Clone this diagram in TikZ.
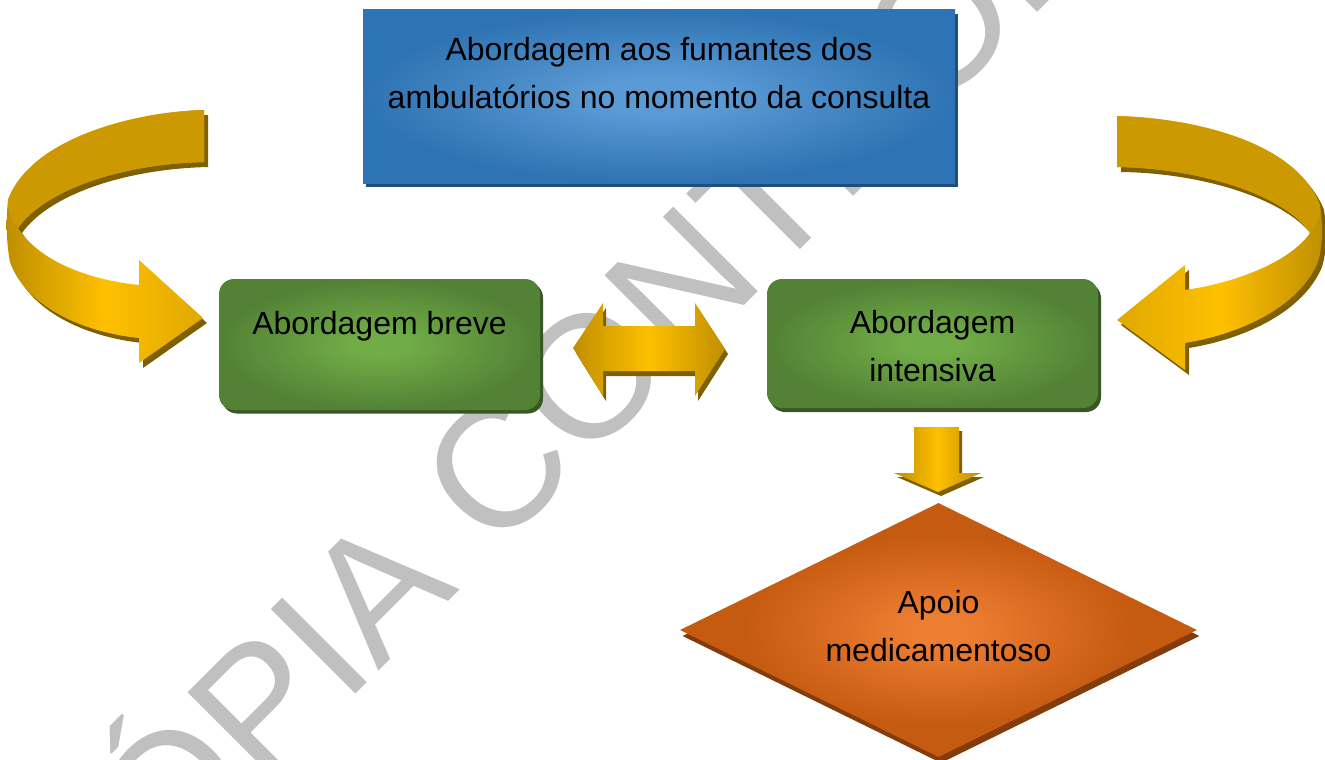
\documentclass[tikz,border=0pt]{standalone}
\usepackage{fontspec}
\setmainfont{Liberation Sans}
\usetikzlibrary{shapes.geometric}
\definecolor{blueIn}{HTML}{5B9BD5}
\definecolor{blueOut}{HTML}{2E73B3}
\definecolor{blueSh}{HTML}{1F4E79}
\definecolor{greenIn}{HTML}{70AD47}
\definecolor{greenOut}{HTML}{538135}
\definecolor{greenSh}{HTML}{385723}
\definecolor{orIn}{HTML}{ED7D31}
\definecolor{orOut}{HTML}{C55A11}
\definecolor{orSh}{HTML}{843C0C}
\definecolor{goldL}{HTML}{FFC000}
\definecolor{goldM}{HTML}{E0A800}
\definecolor{goldD}{HTML}{BF8F00}
\definecolor{goldT}{HTML}{CC9A00}
\definecolor{goldSh}{HTML}{7F6000}
\definecolor{wmGray}{HTML}{C0C0C0}
\pgfdeclareradialshading{blueshade}{\pgfpointorigin}{color(0bp)=(blueIn); color(5bp)=(blueIn); color(25bp)=(blueOut); color(50bp)=(blueOut)}
\pgfdeclareradialshading{greenshade}{\pgfpointorigin}{color(0bp)=(greenIn); color(4bp)=(greenIn); color(25bp)=(greenOut); color(50bp)=(greenOut)}
\pgfdeclareradialshading{orshade}{\pgfpointorigin}{color(0bp)=(orIn); color(3bp)=(orIn); color(19bp)=(orOut); color(50bp)=(orOut)}
\begin{document}
\begin{tikzpicture}[x=1pt,y=-1pt,
  lbl/.style={font=\fontsize{32}{48}\selectfont, text=black, align=center, inner sep=0pt},
  wmark/.style={font=\fontsize{174}{174}\selectfont, text=wmGray, inner sep=0pt},
  bluebox/.style={rectangle, inner sep=0pt, minimum width=592pt, minimum height=173pt, shade, shading=blueshade},
  blueshadow/.style={rectangle, inner sep=0pt, minimum width=592pt, minimum height=173pt, fill=blueSh},
  greenbox/.style={rectangle, rounded corners=15pt, inner sep=0pt, shade, shading=greenshade},
  greenshadow/.style={rectangle, rounded corners=15pt, inner sep=0pt, fill=greenSh},
  diabox/.style={diamond, inner sep=0pt, minimum width=517pt, minimum height=254pt, shade, shading=orshade},
  diashadow/.style={diamond, inner sep=0pt, minimum width=517pt, minimum height=254pt, fill=orSh},
  goldshadow/.style={fill=goldSh},
  goldtop/.style={fill=goldT},
  goldgrad/.style={left color=goldD, right color=goldD, middle color=goldL},
  goldgradsoft/.style={left color=goldD, right color=goldM, middle color=goldL},
  goldgradsoftr/.style={left color=goldM, right color=goldD, middle color=goldL},
]
\useasboundingbox (0,0) rectangle (1325,760);
% watermark
\begin{scope}
\clip (0,0) rectangle (1325,760);
\node[wmark, rotate=45, anchor=base west] (wm) at (77.6,972.4) {CÓPIA CONTROLADA};
\end{scope}

% top blue box
\node[blueshadow] (topsh) at (662,100.5) {};
\node[bluebox] (top) at (659,96.5) {};
\node[lbl] (toptxt) at (659,73.5) {Abordagem aos fumantes dos\\ambulatórios no momento da consulta};

% green boxes
\node[greenshadow, minimum width=321pt, minimum height=131pt] (brevesh) at (382.5,348) {};
\node[greenbox, minimum width=321pt, minimum height=131pt] (breve) at (379.5,344.5) {};
\node[lbl, anchor=base] (brevetxt) at (379.5,334) {Abordagem breve};

\node[greenshadow, minimum width=331pt, minimum height=129pt] (intsh) at (935.5,347.5) {};
\node[greenbox, minimum width=331pt, minimum height=129pt] (intensiva) at (932.5,343.5) {};
\node[lbl] (inttxt) at (932.5,346.5) {Abordagem\\intensiva};

% diamond
\node[diashadow] (apoiosh) at (941,636) {};
\node[diabox] (apoio) at (938.5,630) {};
\node[lbl] (apoiotxt) at (938.5,626.5) {Apoio\\medicamentoso};

% double arrow between the green boxes
\begin{scope}[shift={(3,5)}]
\fill[goldshadow] (573,348) -- (603,303) -- (603,326) -- (695,326) -- (695,303) -- (725,349) -- (695,396) -- (695,371) -- (603,371) -- (603,396) -- cycle;
\end{scope}
\shade[goldgrad] (573,348) -- (603,303) -- (603,326) -- (695,326) -- (695,303) -- (725,349) -- (695,396) -- (695,371) -- (603,371) -- (603,396) -- cycle;

% down arrow
\begin{scope}[shift={(3,4)}]
\fill[goldshadow] (914,427) -- (959,427) -- (959,473) -- (981,473) -- (938,492) -- (894,473) -- (914,473) -- cycle;
\end{scope}
\shade[goldgrad] (914,427) -- (959,427) -- (959,473) -- (981,473) -- (938,492) -- (894,473) -- (914,473) -- cycle;

% left curved arrow
\begin{scope}[shift={(4,5)}]
\fill[goldshadow] (204,110) .. controls (130,112) and (30,140) .. (8,200)
  .. controls (6,220) and (6,240) .. (10,262)
  .. controls (25,305) and (80,332) .. (139,338)
  -- (139,363) -- (203,318) -- (139,260) -- (139,285)
  .. controls (90,280) and (40,262) .. (18,228)
  .. controls (45,190) and (120,164) .. (204,162) -- cycle;
\end{scope}
\shade[goldgradsoft] (204,110) .. controls (130,112) and (30,140) .. (8,200)
  .. controls (6,220) and (6,240) .. (10,262)
  .. controls (25,305) and (80,332) .. (139,338)
  -- (139,363) -- (203,318) -- (139,260) -- (139,285)
  .. controls (90,280) and (40,262) .. (18,228)
  .. controls (45,190) and (120,164) .. (204,162) -- cycle;
\fill[goldtop] (204,110) .. controls (130,112) and (30,140) .. (8,200)
  .. controls (8,212) and (12,222) .. (18,228)
  .. controls (45,190) and (120,164) .. (204,162) -- cycle;

% right curved arrow
\begin{scope}[shift={(4,5)}]
\fill[goldshadow] (1117,116) .. controls (1190,118) and (1295,140) .. (1320,205)
  .. controls (1323,225) and (1323,245) .. (1318,262)
  .. controls (1300,305) and (1245,333) .. (1185,343)
  -- (1185,370) -- (1117,320) -- (1185,265) -- (1185,290)
  .. controls (1235,283) and (1290,262) .. (1310,233)
  .. controls (1285,195) and (1200,168) .. (1117,167) -- cycle;
\end{scope}
\shade[goldgradsoftr] (1117,116) .. controls (1190,118) and (1295,140) .. (1320,205)
  .. controls (1323,225) and (1323,245) .. (1318,262)
  .. controls (1300,305) and (1245,333) .. (1185,343)
  -- (1185,370) -- (1117,320) -- (1185,265) -- (1185,290)
  .. controls (1235,283) and (1290,262) .. (1310,233)
  .. controls (1285,195) and (1200,168) .. (1117,167) -- cycle;
\fill[goldtop] (1117,116) .. controls (1190,118) and (1295,140) .. (1320,205)
  .. controls (1321,215) and (1316,225) .. (1310,233)
  .. controls (1285,195) and (1200,168) .. (1117,167) -- cycle;
\end{tikzpicture}
\end{document}
